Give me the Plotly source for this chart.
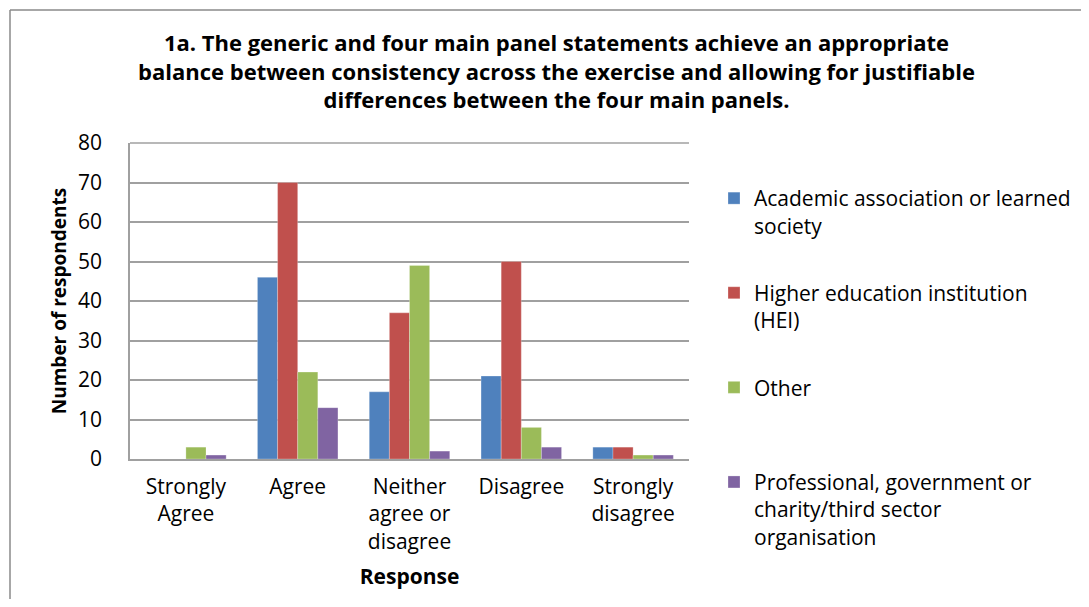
import plotly.graph_objects as go

categories = ["Strongly<br>Agree", "Agree", "Neither<br>agree or<br>disagree", "Disagree", "Strongly<br>disagree"]
series_names = [
    "Academic association or learned<br>society",
    "Higher education institution<br>(HEI)",
    "Other<br>&nbsp;",
    "Professional, government or<br>charity/third sector<br>organisation",
]
academic = [0, 46, 17, 21, 3]
hei = [0, 70, 37, 50, 3]
other = [3, 22, 49, 8, 1]
professional = [1, 13, 2, 3, 1]
colors = ["#4F81BD", "#C0504D", "#9BBB59", "#8064A2"]
y_ticks = [0, 10, 20, 30, 40, 50, 60, 70, 80]

# page has an 8px body margin; figure coordinates = page - 8
# keep the figure inside the window so no scrollbars appear
OFF = 8
W, H = 1089 - 2 * OFF, 607 - 2 * OFF
L = 130 - OFF
T = 143 - OFF
R = W - (689 - OFF)
B = H - (459 - OFF)
pw, ph = W - L - R, H - T - B

fig = go.Figure()
for i, (name, vals) in enumerate(zip(series_names, [academic, hei, other, professional])):
    fig.add_trace(go.Bar(
        x=categories, y=vals, name=name, legendgroup=str(i),
        marker=dict(color=colors[i], line=dict(color="rgba(255,255,255,0.5)", width=0.5)),
    ))

font_family = "'Open Sans', sans-serif"
grid = "#a0a0a0"
fig.update_layout(
    width=W, height=H,
    margin=dict(l=L, r=R, t=T, b=B, autoexpand=False),
    paper_bgcolor="white", plot_bgcolor="white",
    barmode="group", bargap=0.28, bargroupgap=0,
    font=dict(family=font_family, size=21, color="#000000"),
    title=dict(
        text="<b>1a. The generic and four main panel statements achieve an appropriate<br>balance between consistency across the exercise and allowing for justifiable<br>differences between the four main panels.</b>",
        x=(556.5 - OFF) / W, xref="container", xanchor="center",
        y=1 - 43 / H, yref="container", yanchor="top",
        font=dict(size=22, family=font_family),
    ),
    legend=dict(
        x=(714 - OFF) / W, xref="container", xanchor="left",
        y=1 - (178 - OFF) / H, yref="container", yanchor="top",
        valign="top", tracegroupgap=37, maxheight=0.95,
        font=dict(size=21, family=font_family),
        itemwidth=30, bgcolor="rgba(0,0,0,0)",
        borderwidth=0,
    ),
    xaxis=dict(
        title=dict(text="<b>Response</b>", font=dict(size=21), standoff=16),
        showline=True, linecolor=grid, linewidth=1.5,
        ticks="", tickfont=dict(size=21), automargin=False, ticklabelstandoff=8,
    ),
    yaxis=dict(
        title=dict(text="<b>Number of respondents</b>", font=dict(size=19), standoff=6),
        range=[0, 80], tickvals=y_ticks, showgrid=True, gridcolor=grid, gridwidth=1.5,
        showline=True, linecolor=grid, linewidth=1.5,
        ticks="", ticklabelstandoff=22,
        tickfont=dict(size=21), automargin=False, zeroline=False,
    ),
    showlegend=True,
)

# top gridline at 80 (coincides with plot edge)
fig.add_shape(type="line", xref="paper", yref="paper", x0=0, x1=1, y0=1, y1=1,
              line=dict(color=grid, width=1.5))

# outer chart border: only left and top edges are visible in the picture
bx = (10 - OFF - L) / pw
by_top = (H - B - (10 - OFF)) / ph
by_bot = (H - B - H) / ph
bx_right = (W - L) / pw
border = dict(color="#8a8a8a", width=1.5)
fig.add_shape(type="line", xref="paper", yref="paper", x0=bx, x1=bx, y0=by_bot, y1=by_top,
              line=border, layer="below")
fig.add_shape(type="line", xref="paper", yref="paper", x0=bx, x1=bx_right, y0=by_top, y1=by_top,
              line=border, layer="below")

fig.write_html("out.html", config={"displayModeBar": False})
